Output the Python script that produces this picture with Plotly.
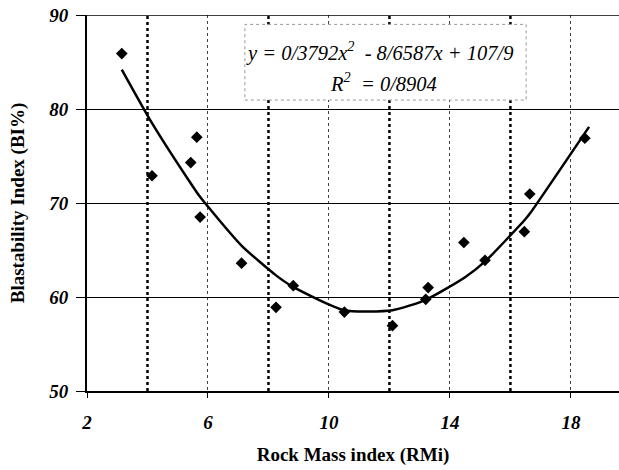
import plotly.graph_objects as go

# Measured points
rmi = [3.15, 4.15, 5.43, 5.63, 5.74, 7.11, 8.25, 8.82, 10.51, 12.1, 13.2, 13.28, 14.46, 15.16, 16.46, 16.64, 18.46]
bi = [85.9, 72.9, 74.3, 77.0, 68.5, 63.6, 58.9, 61.2, 58.4, 56.95, 59.75, 61.0, 65.8, 63.9, 66.95, 70.96, 76.9]

# Trend curve
curve_x = [3.15, 4.15, 5.45, 5.75, 7.1, 8.25, 8.8, 10.5, 12.1, 13.2, 14.5, 15.2, 16.5, 16.65, 18.6]
curve_y = [84.2, 78.5, 72.0, 70.6, 65.5, 62.3, 61.1, 58.6, 58.6, 59.7, 62.1, 63.9, 68.3, 68.9, 78.1]

class_bounds = [4, 8, 12, 16]
x_ticks = [2, 6, 10, 14, 18]
y_ticks = [50, 60, 70, 80, 90]

eq_text = "y = 0/3792x<sup>2</sup>  - 8/6587x + 107/9"
r2_text = "R<sup>2</sup>  = 0/8904"

SERIF = "Liberation Serif"

fig = go.Figure()
fig.add_trace(go.Scatter(x=curve_x, y=curve_y, mode="lines", line_shape="spline",
                         line=dict(color="black", width=2.5, smoothing=0.6),
                         hoverinfo="skip", showlegend=False))
fig.add_trace(go.Scatter(x=rmi, y=bi, mode="markers",
                         marker=dict(symbol="diamond", size=9, color="black"), showlegend=False))

for b in class_bounds:
    fig.add_shape(type="line", xref="x", yref="y", x0=b, x1=b, y0=50, y1=90,
                  line=dict(color="black", width=2.5, dash="dot"), layer="below")

# equation box
fig.add_shape(type="rect", xref="x", yref="y", x0=7.22, x1=16.52, y0=80.95, y1=89.0,
              fillcolor="white", line=dict(color="#999999", width=1, dash="dot"), layer="above")
fig.add_annotation(x=11.68, y=86.1, xref="x", yref="y", text=eq_text, showarrow=False,
                   font=dict(family=SERIF, size=20.5, color="black", style="italic"))
fig.add_annotation(x=11.8, y=82.9, xref="x", yref="y", text=r2_text, showarrow=False,
                   font=dict(family=SERIF, size=20.5, color="black", style="italic"))

# top frame line
fig.add_shape(type="line", xref="paper", yref="y", x0=0, x1=1, y0=90, y1=90,
              line=dict(color="black", width=1.5))

fig.update_layout(
    width=619, height=470,
    margin=dict(l=87, r=0, t=15, b=79),
    plot_bgcolor="white", paper_bgcolor="white",
    font=dict(family=SERIF, color="black"),
    xaxis=dict(range=[2, 19.59], tickvals=x_ticks, ticks="outside", ticklen=5, tickcolor="black",
               showline=True, linecolor="black", linewidth=2,
               showgrid=True, gridcolor="#444444", griddash="dot", gridwidth=1,
               zeroline=False,
               tickfont=dict(family=SERIF, size=19, weight="bold", style="italic"),
               ticklabelstandoff=8,
               title=dict(text="Rock Mass index (RMi)", standoff=16,
                          font=dict(family=SERIF, size=19, weight="bold"))),
    yaxis=dict(range=[50, 90], tickvals=y_ticks, ticks="outside", ticklen=9, tickcolor="black",
               showline=True, linecolor="black", linewidth=2,
               showgrid=True, gridcolor="black", gridwidth=1.2, zeroline=False,
               tickfont=dict(family=SERIF, size=19, weight="bold", style="italic"),
               ticklabelstandoff=4,
               title=dict(text="Blastability Index (BI%)", standoff=20,
                          font=dict(family=SERIF, size=19, weight="bold"))),
)

fig.write_html("out.html", config={"displayModeBar": False},
               post_script="document.body.style.margin='0';document.body.style.overflow='hidden';")
